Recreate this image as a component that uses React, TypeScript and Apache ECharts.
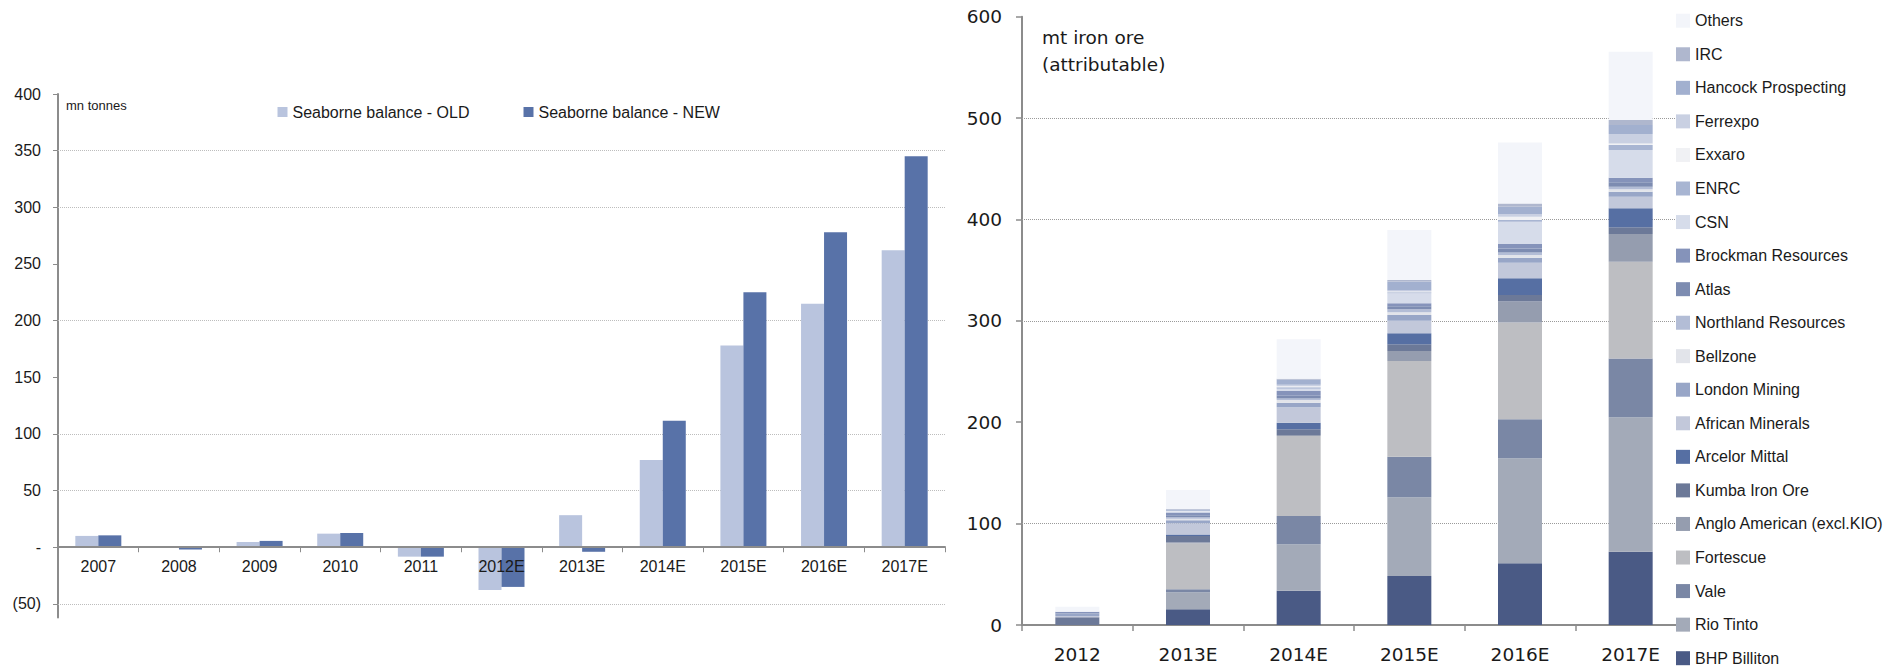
import React, { useEffect, useRef } from 'react';
import * as echarts from 'echarts';

// ---------- Left chart data ----------
const leftCategories = ['2007', '2008', '2009', '2010', '2011', '2012E', '2013E', '2014E', '2015E', '2016E', '2017E'];
const seaborneOld = [10, -0.5, 4.7, 12, -8.3, -37.7, 28.3, 77, 178, 215, 262];
const seaborneNew = [10.5, -2, 5.6, 12.6, -8.3, -35, -4, 111.6, 225, 278, 345];
const leftTicks = [-50, 0, 50, 100, 150, 200, 250, 300, 350, 400];
const leftGridValues = [350, 300, 200, 100, 50, -50];
const LEFT_MIN = -62;
const LEFT_MAX = 400;

// ---------- Right chart data ----------
const rightCategories = ['2012', '2013E', '2014E', '2015E', '2016E', '2017E'];
const rightTicks = [0, 100, 200, 300, 400, 500, 600];
const rightGridValues = [500, 400, 300, 100];

const bhp = [0, 15.5, 33.8, 48.3, 60.9, 72.3];
const rioTinto = [0, 16.8, 45.8, 77.7, 103.6, 132.5];
const vale = [0, 2.9, 27.9, 40, 38.5, 58];
const fortescue = [0, 45.4, 78.9, 94.4, 95.3, 95.6];
const angloAmerican = [0, 1, 1, 9.9, 20.7, 27.3];
const kumba = [7.6, 6.2, 5.6, 6.6, 6.6, 6.6];
const arcelorMittal = [0, 1.5, 6.6, 10.9, 16.4, 18.7];
const africanMinerals = [1.2, 11, 15.2, 12.4, 15.4, 11.5];
const londonMining = [2.6, 3, 4.5, 5.6, 4.9, 4.9];
const bellzone = [0, 1.5, 2.6, 2.8, 2.6, 2.3];
const northland = [0, 1.5, 1.6, 2.8, 2.5, 2.6];
const atlas = [0, 2, 2.5, 3, 4, 4.3];
const brockman = [1.6, 2.5, 4.7, 3, 4.4, 4.6];
const csn = [0, 0.5, 2.3, 9.9, 22, 27.3];
const enrc = [0, 0.5, 1.5, 0.8, 1.6, 4.9];
const exxaro = [0, 0.3, 1, 0.8, 3.3, 1.6];
const ferrexpo = [0, 0.5, 1.5, 1, 2.6, 9.2];
const hancock = [0, 1.3, 5, 9, 7.2, 8.9];
const irc = [0, 0.5, 1, 1.5, 3.3, 4.9];
const others = [5, 18.8, 38.8, 49.3, 60, 67.4];

// bottom to top
const companies = [
  { name: 'BHP Billiton', data: bhp, color: '#4A5A85' },
  { name: 'Rio Tinto', data: rioTinto, color: '#A3AAB8' },
  { name: 'Vale', data: vale, color: '#7A87A5' },
  { name: 'Fortescue', data: fortescue, color: '#BDBEC2' },
  { name: 'Anglo American (excl.KIO)', data: angloAmerican, color: '#959DAF' },
  { name: 'Kumba Iron Ore', data: kumba, color: '#6C7998' },
  { name: 'Arcelor Mittal', data: arcelorMittal, color: '#566FA3' },
  { name: 'African Minerals', data: africanMinerals, color: '#C2C8DA' },
  { name: 'London Mining', data: londonMining, color: '#98A6C7' },
  { name: 'Bellzone', data: bellzone, color: '#E2E4EA' },
  { name: 'Northland Resources', data: northland, color: '#B3BDD6' },
  { name: 'Atlas', data: atlas, color: '#7D8CB1' },
  { name: 'Brockman Resources', data: brockman, color: '#8593BA' },
  { name: 'CSN', data: csn, color: '#D6DCEA' },
  { name: 'ENRC', data: enrc, color: '#A8B5D2' },
  { name: 'Exxaro', data: exxaro, color: '#F0F1F4' },
  { name: 'Ferrexpo', data: ferrexpo, color: '#C9D0E2' },
  { name: 'Hancock Prospecting', data: hancock, color: '#A2B0CF' },
  { name: 'IRC', data: irc, color: '#AFB7CE' },
  { name: 'Others', data: others, color: '#F3F5FA' },
];

const TEXT = '#1a1a1a';
const AXIS = '#8c8c8c';
const LEFT_FONT = '"Liberation Sans", Arial, sans-serif';
const RIGHT_FONT = '"DejaVu Sans", sans-serif';

function leftLabel(v: number) {
  if (v === 0) return '-';
  if (v < 0) return `(${-v})`;
  return String(v);
}

export default function App() {
  const ref = useRef<HTMLDivElement>(null);

  useEffect(() => {
    const chart = echarts.init(ref.current!, null, { renderer: 'svg' });

    const leftGridHeight = 523.5;
    const zeroOffset = -(leftGridHeight * (0 - LEFT_MIN)) / (LEFT_MAX - LEFT_MIN);

    const rightSeries = companies.map((c, i) => ({
      name: c.name,
      type: 'bar',
      stack: 'producers',
      xAxisIndex: 1,
      yAxisIndex: 1,
      barWidth: 44,
      data: c.data,
      itemStyle: { color: c.color },
      ...(i === 0
        ? {
            markLine: {
              silent: true,
              z: 1,
              symbol: ['none', 'none'],
              label: { show: false },
              lineStyle: { type: 'dotted', color: '#9a9a9a', width: 1 },
              data: rightGridValues.map((v) => ({ yAxis: v })),
            },
          }
        : {}),
    }));

    const namesTopDown = companies.map((c) => c.name).reverse();
    const legendCommon = {
      orient: 'vertical',
      icon: 'rect',
      itemWidth: 14,
      itemHeight: 14,
      itemGap: 17.56,
      padding: 0,
      selectedMode: false,
      textStyle: { fontSize: 16, color: TEXT, fontFamily: LEFT_FONT },
    };

    const option: any = {
      animation: false,
      backgroundColor: '#ffffff',
      grid: [
        { left: 58, top: 94, width: 887, height: leftGridHeight },
        { left: 1022, top: 16.7, width: 664, height: 608.3 },
      ],
      legend: [
        {
          data: ['Seaborne balance - OLD', 'Seaborne balance - NEW'],
          left: 277.5,
          top: 104,
          orient: 'horizontal',
          icon: 'rect',
          itemWidth: 10,
          itemHeight: 10,
          itemGap: 54,
          padding: 0,
          selectedMode: false,
          textStyle: { fontSize: 16, color: TEXT, fontFamily: LEFT_FONT },
        },
        { ...legendCommon, data: namesTopDown.slice(0, 10), left: 1676, top: 12.7 },
        { ...legendCommon, data: namesTopDown.slice(10), left: 1676, bottom: 0.8 },
      ],
      xAxis: [
        {
          gridIndex: 0,
          type: 'category',
          data: leftCategories,
          offset: zeroOffset,
          z: 10,
          axisLine: { onZero: false, lineStyle: { color: AXIS, width: 2 } },
          axisTick: { show: true, length: 5, lineStyle: { color: AXIS, width: 1 } },
          axisLabel: { color: TEXT, fontSize: 16, fontFamily: LEFT_FONT, margin: 11, interval: 0 },
          splitLine: { show: false },
        },
        {
          gridIndex: 1,
          type: 'category',
          data: rightCategories,
          axisLine: { lineStyle: { color: AXIS, width: 2 } },
          axisTick: { show: true, length: 6, lineStyle: { color: AXIS, width: 1.5 } },
          axisLabel: { color: TEXT, fontSize: 18.5, fontFamily: RIGHT_FONT, margin: 20, interval: 0 },
          splitLine: { show: false },
        },
      ],
      yAxis: [
        {
          gridIndex: 0,
          type: 'value',
          min: LEFT_MIN,
          max: LEFT_MAX,
          axisLine: { show: true, lineStyle: { color: AXIS, width: 2 } },
          axisTick: { show: true, length: 5, customValues: leftTicks, lineStyle: { color: AXIS } },
          axisLabel: {
            customValues: leftTicks,
            color: TEXT,
            fontSize: 16,
            fontFamily: LEFT_FONT,
            margin: 17,
            formatter: (v: number) => leftLabel(v),
          },
          splitLine: { show: false },
        },
        {
          gridIndex: 1,
          type: 'value',
          min: 0,
          max: 600,
          axisLine: { show: true, lineStyle: { color: AXIS, width: 2 } },
          axisTick: { show: true, length: 6, customValues: rightTicks, lineStyle: { color: AXIS, width: 1.5 } },
          axisLabel: {
            customValues: rightTicks,
            color: TEXT,
            fontSize: 18.5,
            fontFamily: RIGHT_FONT,
            margin: 20,
          },
          splitLine: { show: false },
        },
      ],
      graphic: [
        {
          type: 'text',
          left: 66,
          top: 99,
          style: { text: 'mn tonnes', font: `13px ${LEFT_FONT}`, fill: TEXT },
        },
        {
          type: 'text',
          left: 1042,
          top: 24,
          style: {
            text: 'mt iron ore\n(attributable)',
            font: `18.5px ${RIGHT_FONT}`,
            lineHeight: 27,
            fill: TEXT,
          },
        },
      ],
      series: [
        {
          name: 'Seaborne balance - OLD',
          type: 'bar',
          xAxisIndex: 0,
          yAxisIndex: 0,
          barWidth: 23,
          barGap: '0%',
          data: seaborneOld,
          itemStyle: { color: '#B9C4DE' },
          markLine: {
            silent: true,
            z: 1,
            symbol: ['none', 'none'],
            label: { show: false },
            lineStyle: { type: 'dotted', color: '#bdbdbd', width: 1 },
            data: leftGridValues.map((v) => ({ yAxis: v })),
          },
        },
        {
          name: 'Seaborne balance - NEW',
          type: 'bar',
          xAxisIndex: 0,
          yAxisIndex: 0,
          barWidth: 23,
          barGap: '0%',
          data: seaborneNew,
          itemStyle: { color: '#5872A8' },
        },
        ...rightSeries,
      ],
    };

    chart.setOption(option);
    return () => chart.dispose();
  }, []);

  return (
    <div
      ref={ref}
      style={{ position: 'fixed', left: 0, top: 0, width: 1891, height: 667, background: '#fff' }}
    />
  );
}
